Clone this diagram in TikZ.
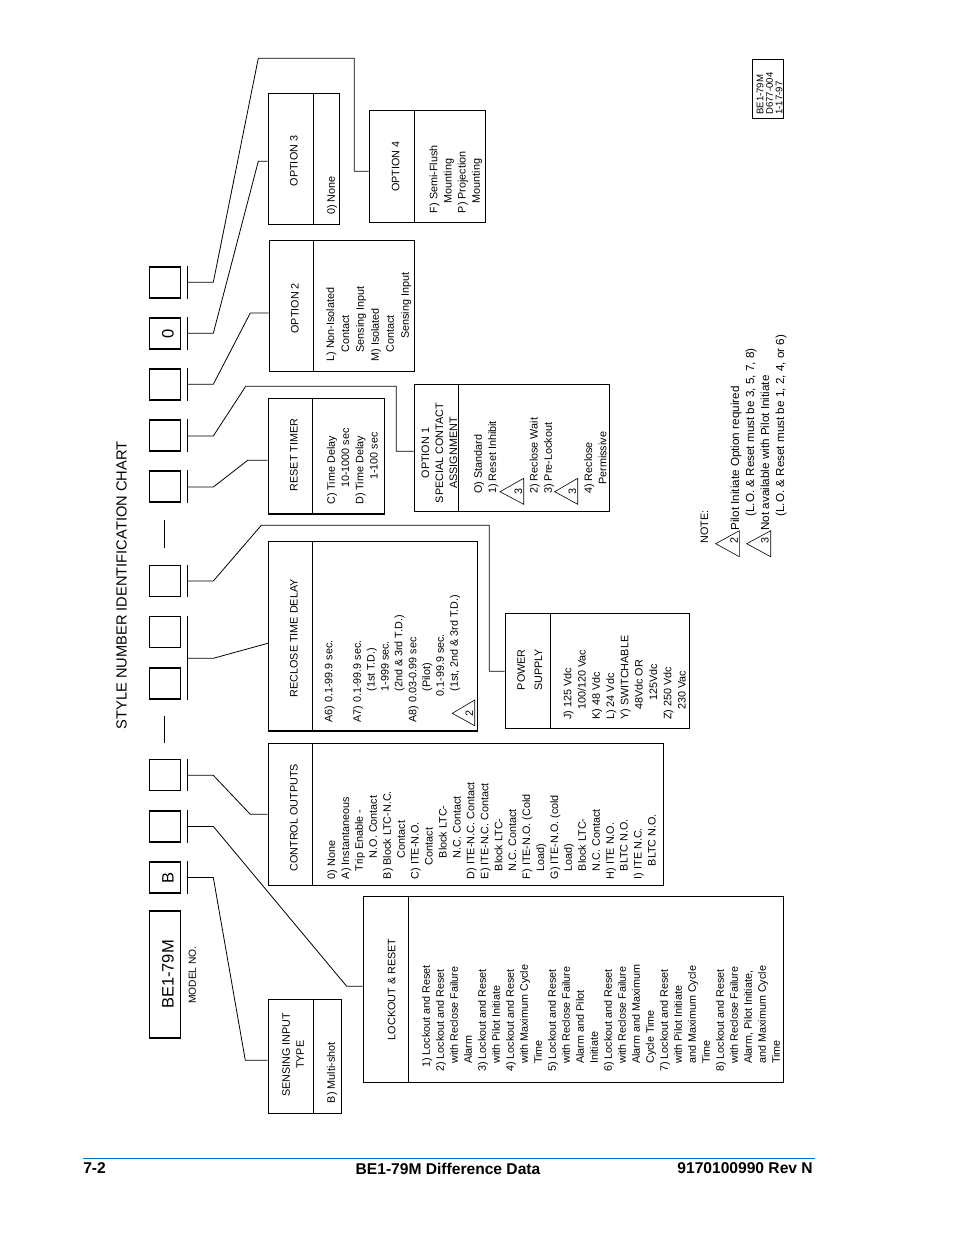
\documentclass[tikz,border=0pt]{standalone}
\usepackage{fontspec}
\setmainfont{Liberation Sans}
\usepackage{xcolor}
\definecolor{footerblue}{RGB}{0,114,198}
\newcommand{\indentby}[1]{\hspace*{0.75\dimexpr#1pt\relax}}
\newcommand{\slottext}[1]{\hspace*{4.5pt}\rotatebox{90}{#1}}
\tikzset{
  slot/.style={draw, line width=0.8pt, minimum size=31*0.75pt, inner sep=0pt, font=\fontsize{12.4}{14}\selectfont},
  chartbox/.style 2 args={draw, line width=0.85pt, inner sep=0pt, minimum width=#1*0.75pt, minimum height=#2*0.75pt},
  heading/.style={rotate=90, inner sep=0pt, align=center, font=\fontsize{8.1}{10.5}\selectfont},
  listing/.style={rotate=90, anchor=north west, inner sep=0pt, align=left, font=\fontsize{8.1}{#1}\selectfont},
  rulerline/.style={line width=0.85pt},
  ticker/.style={line width=0.8pt},
  link/.style={line width=0.6pt, line join=round},
  notetri/.style={line width=0.45pt, line join=miter},
  digit/.style={rotate=90, inner sep=0pt, font=\fontsize{8.1}{10}\selectfont}
}
\begin{document}
\begin{tikzpicture}[x=0.75pt,y=0.75pt,yscale=-1,xscale=1]
\useasboundingbox (0,0) rectangle (954,1235);

% Title
\node [rotate=90, inner sep=0pt, font=\fontsize{11}{13}\selectfont] (title) at (121.5,585.5) {STYLE NUMBER IDENTIFICATION CHART};

% Model box
\node [chartbox={31}{127}, font=\fontsize{12.4}{14}\selectfont] (model) at (165,974.5) {\slottext{BE1-79M}};
\node [rotate=90, inner sep=0pt, font=\fontsize{7.7}{9}\selectfont] (modelno) at (192.3,975) {MODEL NO.};

% Slot boxes
\node [slot] (slotB) at (165,877.5) {\slottext{B}};
\node [slot] (slotC) at (165,826.5) {};
\node [slot] (slotD) at (165,775) {};
\node [slot] (slotE) at (165,683.5) {};
\node [slot] (slotF) at (165,632) {};
\node [slot] (slotG) at (165,581) {};
\node [slot] (slotH) at (165,486.5) {};
\node [slot] (slotI) at (165,435.5) {};
\node [slot] (slotJ) at (165,384.5) {};
\node [slot] (slotK) at (165,333.5) {\slottext{0}};
\node [slot] (slotL) at (165,282.5) {};

% Dashes between the slots
\draw [ticker] (164.3,716) -- (164.3,742.7);
\draw [ticker] (164.3,520) -- (164.3,547.7);

% Ticks
\coordinate (tickB) at (187.3,877.5);
\coordinate (tickC) at (187.3,826.4);
\coordinate (tickD) at (187.3,775.3);
\coordinate (tickE) at (187.3,658.3);
\coordinate (tickG) at (187.3,581);
\coordinate (tickH) at (187.3,487);
\coordinate (tickI) at (187.3,436);
\coordinate (tickJ) at (187.3,384.3);
\coordinate (tickK) at (187.3,333.3);
\coordinate (tickL) at (187.3,282.3);
\draw [ticker] (tickB |- slotB.north) -- (tickB |- slotB.south);
\draw [ticker] (tickC |- slotC.north) -- (tickC |- slotC.south);
\draw [ticker] (tickD |- slotD.north) -- (tickD |- slotD.south);
\draw [ticker] (tickE |- slotF.north) -- (tickE |- slotE.south);
\draw [ticker] (tickG |- slotG.north) -- (tickG |- slotG.south);
\draw [ticker] (tickH |- slotH.north) -- (tickH |- slotH.south);
\draw [ticker] (tickI |- slotI.north) -- (tickI |- slotI.south);
\draw [ticker] (tickJ |- slotJ.north) -- (tickJ |- slotJ.south);
\draw [ticker] (tickK |- slotK.north) -- (tickK |- slotK.south);
\draw [ticker] (tickL |- slotL.north) -- (tickL |- slotL.south);

% Chart boxes
\node [chartbox={73}{114}] (sensing) at (304.8,1056.3) {};
\node [chartbox={420.4}{186}] (lockout) at (573.5,989.3) {};
\node [chartbox={395}{142}] (control) at (465.8,814.3) {};
\node [chartbox={209.4}{189.7}] (reclose) at (373,636.2) {};
\node [chartbox={184}{115}] (power) at (597.3,670.8) {};
\node [chartbox={116}{115.7}] (resettimer) at (326.3,456.2) {};
\node [chartbox={195}{127}] (opt1) at (511.8,447.8) {};
\node [chartbox={145}{131}] (opt2) at (341.8,305.8) {};
\node [chartbox={71}{131}] (opt3) at (303.8,158.8) {};
\node [chartbox={116.4}{112}] (opt4) at (427.5,166.3) {};

% Dividers
\draw [rulerline] (313.3,0 |- sensing.north) -- (313.3,0 |- sensing.south);
\draw [rulerline] (408.3,0 |- lockout.north) -- (408.3,0 |- lockout.south);
\draw [rulerline] (312.3,0 |- control.north) -- (312.3,0 |- control.south);
\draw [rulerline] (312.3,0 |- reclose.north) -- (312.3,0 |- reclose.south);
\draw [rulerline] (550.3,0 |- power.north) -- (550.3,0 |- power.south);
\draw [rulerline] (312.3,0 |- resettimer.north) -- (312.3,0 |- resettimer.south);
\draw [rulerline] (458.7,0 |- opt1.north) -- (458.7,0 |- opt1.south);
\draw [rulerline] (313.3,0 |- opt2.north) -- (313.3,0 |- opt2.south);
\draw [rulerline] (313.3,0 |- opt3.north) -- (313.3,0 |- opt3.south);
\draw [rulerline] (414.3,0 |- opt4.north) -- (414.3,0 |- opt4.south);

% Connectors
\draw [link] (tickB) -- (213.3,877.5) -- (245.3,1060.3) -- (sensing.west |- 0,1060.3);
\draw [link] (tickC) -- (213.3,826.4) -- (346.7,986.3) -- (lockout.west |- 0,986.3);
\draw [link] (tickD) -- (213.3,775.3) -- (250.3,814.3) -- (control.west);
\draw [link] (tickE) -- (213.3,658.3) -- (reclose.west |- 0,643.3);
\draw [link] (tickG) -- (213.3,581) -- (261.3,525.3) -- (489.3,525.3) -- (489.3,671.3) -- (power.west |- 0,671.3);
\draw [link] (tickH) -- (213.3,487) -- (247.7,460.3) -- (resettimer.west |- 0,460.3);
\draw [link] (tickI) -- (213.3,436) -- (245.7,386.3) -- (396.3,386.3) -- (396.3,451.3) -- (opt1.west |- 0,451.3);
\draw [link] (tickJ) -- (213.3,384.3) -- (250.3,313) -- (opt2.west |- 0,313);
\draw [link] (tickK) -- (213.3,333.3) -- (258.3,161.3) -- (opt3.west |- 0,161.3);
\draw [link] (tickL) -- (213.3,282.3) -- (258.3,58.3) -- (354.3,58.3) -- (354.3,171.3) -- (opt4.west |- 0,171.3);

% Headings
\node [heading] (sensinghead) at (293,1054.7) {SENSING INPUT\\TYPE};
\node [heading] (lockouthead) at (391.7,989.3) {LOCKOUT \& RESET};
\node [heading] (controlhead) at (294,817.7) {CONTROL OUTPUTS};
\node [heading] (reclosehead) at (294,638.3) {RECLOSE TIME DELAY};
\node [heading, font=\fontsize{8.1}{13}\selectfont] (powerhead) at (529.7,669.7) {POWER\\SUPPLY};
\node [heading] (resethead) at (294,455) {RESET TIMER};
\node [heading] (opt1head) at (439.3,453) {OPTION 1\\SPECIAL CONTACT\\ASSIGNMENT};
\node [heading] (opt2head) at (295,308.3) {OPTION 2};
\node [heading] (opt3head) at (294,161) {OPTION 3};
\node [heading] (opt4head) at (395.7,166.7) {OPTION 4};

% Lists
\node [listing=10.5] (sensinglist) at (326.7,1103.3) {B) Multi-shot};
\node [listing=10.5] (lockoutlist) at (421.7,1072) {%
\indentby{4}1) Lockout and Reset\\
2) Lockout and Reset\\
\indentby{8}with Reclose Failure\\
\indentby{8}Alarm\\
3) Lockout and Reset\\
\indentby{8}with Pilot Initiate\\
4) Lockout and Reset\\
\indentby{8}with Maximum Cycle\\
\indentby{8}Time\\
5) Lockout and Reset\\
\indentby{8}with Reclose Failure\\
\indentby{8}Alarm and Pilot\\
\indentby{8}Initiate\\
6) Lockout and Reset\\
\indentby{8}with Reclose Failure\\
\indentby{8}Alarm and Maximum\\
\indentby{8}Cycle Time\\
7) Lockout and Reset\\
\indentby{8}with Pilot Initiate\\
\indentby{8}and Maximum Cycle\\
\indentby{8}Time\\
8) Lockout and Reset\\
\indentby{8}with Reclose Failure\\
\indentby{8}Alarm, Pilot Initiate,\\
\indentby{8}and Maximum Cycle\\
\indentby{8}Time};
\node [listing=10.45] (controllist) at (327,879.3) {%
0) None\\
A) Instantaneous\\
\indentby{8}Trip Enable -\\
\indentby{21}N.O. Contact\\
B) Block LTC-N.C.\\
\indentby{21}Contact\\
C) ITE-N.O.\\
\indentby{14}Contact\\
\indentby{21}Block LTC-\\
\indentby{21}N.C. Contact\\
D) ITE-N.C. Contact\\
E) ITE-N.C. Contact\\
\indentby{8}Block LTC-\\
\indentby{8}N.C. Contact\\
F) ITE-N.O. (Cold\\
\indentby{8}Load)\\
G) ITE-N.O. (cold\\
\indentby{8}Load)\\
\indentby{8}Block LTC-\\
\indentby{8}N.C. Contact\\
H) ITE N.O.\\
\indentby{8}BLTC N.O.\\
I) ITE N.C.\\
\indentby{13}BLTC N.O.};
\node [listing=10.4] (recloselist) at (324.3,722.7) {%
A6) 0.1-99.9 sec.\\[10.9pt]
A7) 0.1-99.9 sec.\\
\indentby{31}(1st T.D.)\\
\indentby{31}1-999 sec.\\
\indentby{31}(2nd \& 3rd T.D.)\\
A8) 0.03-0.99 sec\\
\indentby{31}(Pilot)\\
\indentby{26}0.1-99.9 sec.\\
\indentby{31}(1st, 2nd \& 3rd T.D.)};
\node [listing=10.7] (powerlist) at (563.3,720) {%
J) 125 Vdc\\
\indentby{10}100/120 Vac\\
K) 48 Vdc\\
L) 24 Vdc\\
Y) SWITCHABLE\\
\indentby{10}48Vdc OR\\
\indentby{19}125Vdc\\
Z) 250 Vdc\\
\indentby{10}230 Vac};
\node [listing=10.7] (resetlist) at (326.7,505) {%
C) Time Delay\\
\indentby{17}10-1000 sec\\
D) Time Delay\\
\indentby{25}1-100 sec};
\node [listing=10.7] (opt1list) at (473.7,494) {%
O) Standard\\
1) Reset Inhibit\\[20.5pt]
2) Reclose Wait\\
3) Pre-Lockout\\[19.5pt]
4) Reclose\\
\indentby{9}Permissive};
\node [listing=11.2] (opt2list) at (326,361.7) {%
L) Non-Isolated\\
\indentby{9}Contact\\
\indentby{9}Sensing Input\\
M) Isolated\\
\indentby{9}Contact\\
\indentby{22.7}Sensing Input};
\node [listing=10.7] (opt3list) at (326.7,215) {0) None};
\node [listing=10.6] (opt4list) at (429.3,213.3) {%
F) Semi-Flush\\
\indentby{10}Mounting\\
P) Projection\\
\indentby{10}Mounting};

% Triangles
\draw [notetri] (452.3,713.3) -- (474.7,700) -- (474.7,725.7) -- cycle;
\node [digit] (tri2a) at (469.3,713.3) {2};
\draw [notetri] (500,491.7) -- (523.7,478.3) -- (523.7,504.3) -- cycle;
\node [digit] (tri3a) at (518.3,491.3) {3};
\draw [notetri] (554.7,491.7) -- (577.7,478.3) -- (577.7,504.3) -- cycle;
\node [digit] (tri3b) at (572.3,491.3) {3};
\draw [notetri] (715.7,543.7) -- (739.3,530.7) -- (739.3,556.7) -- cycle;
\node [digit] (tri2b) at (734,540.7) {2};
\draw [notetri] (746.7,543.7) -- (770.7,530.7) -- (770.7,556.7) -- cycle;
\node [digit] (tri3c) at (765,540.7) {3};

% Notes
\node [rotate=90, inner sep=0pt, font=\fontsize{8.1}{10}\selectfont] (notehead) at (704.3,527) {NOTE:};
\node [listing=11.25, font=\fontsize{8.75}{11.25}\selectfont] (notelist) at (730.5,530.7) {%
Pilot Initiate Option required\\
\indentby{14}(L.O. \& Reset must be 3, 5, 7, 8)\\
Not available with Pilot Initiate\\
\indentby{14}(L.O. \& Reset must be 1, 2, 4, or 6)};

% Drawing number
\node [chartbox={31.4}{59}] (stamp) at (768,88.8) {};
\node [listing=7.1, font=\fontsize{7.2}{7.1}\selectfont] (stamptext) at (756.5,115) {BE1-79M\\D677-004\\1-17-97};

% Footer
\draw [line width=0.75pt, footerblue] (83,1158) -- (815,1158);
\node [anchor=west, inner sep=0pt, font=\fontsize{11.7}{14}\selectfont\bfseries] (pagenum) at (83,1168.5) {7-2};
\node [inner sep=0pt, font=\fontsize{11.7}{14}\selectfont\bfseries] (pagetitle) at (448,1168.5) {BE1-79M Difference Data};
\node [anchor=east, inner sep=0pt, font=\fontsize{11.7}{14}\selectfont\bfseries] (pagerev) at (813,1168.5) {9170100990 Rev N};

\end{tikzpicture}
\end{document}
